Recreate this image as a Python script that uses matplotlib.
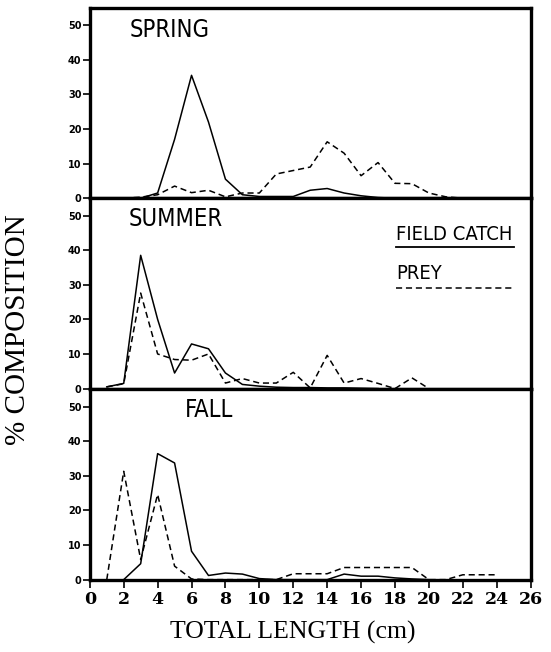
import matplotlib
matplotlib.use("Agg")
import matplotlib.pyplot as plt
import numpy as np

# ---- data (TOTAL LENGTH cm vs % composition) ----
spring_x = [2, 3, 4, 5, 6, 7, 8, 9, 10, 11, 12, 13, 14, 15, 16, 17, 18, 19, 20]
spring_catch = [0, 0, 1.5, 17, 35.5, 22, 5.5, 1, 0.5, 0.5, 0.5, 2.3, 2.8, 1.5, 0.7, 0.2, 0, 0, 0]
spring_prey_x = [2, 3, 4, 5, 6, 7, 8, 9, 10, 11, 12, 13, 14, 15, 16, 17, 18, 19, 20, 21, 22]
spring_prey = [0, 0.3, 1, 3.5, 1.6, 2.3, 0.4, 1.5, 1.5, 7, 8, 9, 16.3, 13, 6.5, 10.3, 4.3, 4.2, 1.5, 0.4, 0]

summer_x = [1, 2, 3, 4, 5, 6, 7, 8, 9, 10, 11, 12, 13, 14, 15, 16, 17]
summer_catch = [0.5, 1.5, 38.5, 20, 4.5, 12.9, 11.5, 4.5, 1.2, 0.7, 0.4, 0.3, 0.3, 0.2, 0.2, 0.1, 0]
summer_prey_x = [1, 2, 3, 4, 5, 6, 7, 8, 9, 10, 11, 12, 13, 14, 15, 16, 17, 18, 19, 20]
summer_prey = [0.5, 1.4, 27.6, 10, 8.4, 8.2, 10, 1.6, 2.9, 1.6, 1.6, 4.7, 0.2, 9.6, 1.6, 2.9, 1.5, 0, 3.1, 0]

fall_x = [2, 3, 4, 5, 6, 7, 8, 9, 10, 11, 12, 13, 14, 15, 16, 17, 18, 19, 20]
fall_catch = [0, 4.6, 36.4, 33.7, 8.2, 1.2, 1.9, 1.6, 0.3, 0, 0, 0, 0, 1.6, 1, 1, 0.5, 0.2, 0]
fall_prey_x = [1, 2, 3, 4, 5, 6, 7, 8, 9, 10, 11, 12, 13, 14, 15, 16, 17, 18, 19, 20, 21, 22, 23, 24]
fall_prey = [0, 31.3, 5.8, 24.6, 3.9, 0.2, 0, 0, 0, 0, 0, 1.7, 1.7, 1.7, 3.5, 3.5, 3.5, 3.5, 3.5, 0, 0, 1.4, 1.4, 1.4]

seasons = ["SPRING", "SUMMER", "FALL"]
y_ticks = [0, 10, 20, 30, 40, 50]
x_ticks = list(range(0, 27, 2))

panels = [
    (spring_x, spring_catch, spring_prey_x, spring_prey),
    (summer_x, summer_catch, summer_prey_x, summer_prey),
    (fall_x, fall_catch, fall_prey_x, fall_prey),
]

sans = ['DejaVu Sans']
serif = ['Liberation Serif', 'DejaVu Serif']

fig = plt.figure(figsize=(5.51, 6.52), dpi=100)
left, right = 0.163, 0.963
tops = [0.988, 0.696, 0.403]
h = 0.292
label_pos = [(0.091, 0.945), (0.088, 0.955), (0.215, 0.955)]

axes = []
for i, (cx, cy, px, py) in enumerate(panels):
    ax = fig.add_axes([left, tops[i] - h, right - left, h])
    ax.plot(cx, cy, color='black', lw=1.1, ls='-')
    ax.plot(px, py, color='black', lw=1.1, ls=(0, (4, 2.5)))
    ax.set_xlim(0, 26)
    ax.set_ylim(0, 55)
    ax.set_yticks(y_ticks)
    ax.set_yticklabels([str(v) for v in y_ticks], fontsize=7, fontweight='bold',
                       family='DejaVu Sans')
    ax.tick_params(axis='y', direction='out', length=5, width=1.2, pad=1)
    ax.set_xticks(x_ticks)
    if i < 2:
        ax.tick_params(axis='x', length=0, labelbottom=False)
    else:
        ax.set_xticklabels([str(v) for v in x_ticks], fontsize=12.5, fontweight='bold',
                           family='DejaVu Serif')
        ax.tick_params(axis='x', direction='out', length=6, width=1.2, pad=2)
    for s in ax.spines.values():
        s.set_linewidth(2.4)
    ax.text(label_pos[i][0], label_pos[i][1], seasons[i], transform=ax.transAxes,
            fontsize=17, family=sans, fontstretch='condensed', va='top', ha='left')
    axes.append(ax)

# legend in summer panel
axl = axes[1]
axl.text(0.695, 0.86, "FIELD CATCH", transform=axl.transAxes, fontsize=14.5,
         family=sans, fontstretch='condensed', va='top', ha='left')
axl.plot([0.695, 0.962], [0.745, 0.745], transform=axl.transAxes, color='black', lw=1.3)
axl.text(0.695, 0.655, "PREY", transform=axl.transAxes, fontsize=14.5,
         family=sans, fontstretch='condensed', va='top', ha='left')
axl.plot([0.695, 0.962], [0.53, 0.53], transform=axl.transAxes, color='black', lw=1.1,
         ls=(0, (4, 2.5)))

fig.text(0.532, 0.012, "TOTAL LENGTH (cm)", ha='center', va='bottom', fontsize=18.5,
         family=serif)
fig.text(0.032, 0.494, "% COMPOSITION", ha='center', va='center', rotation=90,
         fontsize=21, family=serif)

fig.savefig("out.png", dpi=100)
